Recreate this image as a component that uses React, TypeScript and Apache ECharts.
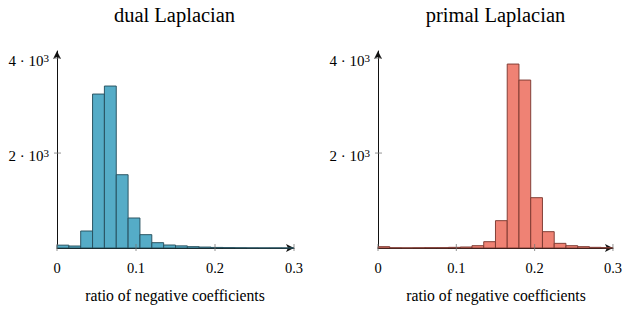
import React, { useEffect, useRef } from "react";
import * as echarts from "echarts";

const binStart = 0;
const binWidth = 0.015;
const dualCounts = [60, 42, 358, 3243, 3412, 1544, 632, 281, 112, 63, 45, 28, 20, 12, 8, 5, 3, 2, 2, 1];
const primalCounts = [28, 5, 3, 5, 7, 7, 14, 21, 49, 133, 576, 3875, 3538, 1060, 344, 98, 49, 28, 14, 8];
const xTicks = [0, 0.1, 0.2, 0.3];
const yTicks = [2000, 4000];
const titles = ["dual Laplacian", "primal Laplacian"];
const xName = "ratio of negative coefficients";

const FONT = "Liberation Serif";

function bins(counts: number[]) {
  return counts.map((c, i) => [binStart + i * binWidth, binStart + (i + 1) * binWidth, c]);
}

export default function App() {
  const ref = useRef<HTMLDivElement>(null);
  useEffect(() => {
    const chart = echarts.init(ref.current!, null, { renderer: "svg" });
    const grids = [
      { left: 57, top: 51, width: 237, height: 197 },
      { left: 378, top: 51, width: 237, height: 197 },
    ];
    const colors = [
      { fill: "#4ca8c4", stroke: "#27505e" },
      { fill: "#ee7b6d", stroke: "#7d3a32" },
    ];
    const data = [bins(dualCounts), bins(primalCounts)];
    const xAxes = grids.map((_, i) => ({
      type: "value",
      gridIndex: i,
      min: 0,
      max: 0.3,
      interval: 0.1,
      axisLine: { show: true, lineStyle: { color: "#111", width: 1 }, symbol: ["none", "arrow"], symbolSize: [6, 8] },
      axisTick: { show: false },
      splitLine: { show: false },
      axisLabel: {
        margin: 12,
        color: "#000",
        fontFamily: FONT,
        fontSize: 14.5,
        formatter: (v: number) => String(Math.round(v * 10) / 10),
      },
    }));
    const yAxes = grids.map((_, i) => ({
      type: "value",
      gridIndex: i,
      min: 0,
      max: 4150,
      interval: 2000,
      axisLine: { show: true, lineStyle: { color: "#111", width: 1 }, symbol: ["none", "arrow"], symbolSize: [6, 8] },
      axisTick: { show: false },
      splitLine: { show: false },
      axisLabel: {
        margin: 8,
        padding: [6, 0, 0, 0],
        color: "#000",
        fontFamily: FONT,
        fontSize: 15,
        formatter: (v: number) => (v > 0 && v % 2000 === 0 ? `{b|${v / 1000} · 10}{s|3}` : ""),
        rich: {
          b: { fontSize: 15, fontFamily: FONT, color: "#000", lineHeight: 17 },
          s: { fontSize: 11, fontFamily: FONT, color: "#000", verticalAlign: "top", lineHeight: 17, padding: [0, 0, 7, 0] },
        },
      },
    }));
    const series: any[] = [];
    data.forEach((d, i) => {
      series.push({
        type: "custom",
        xAxisIndex: i,
        yAxisIndex: i,
        clip: false,
        data: d,
        encode: { x: [0, 1], y: 2 },
        renderItem: (params: any, api: any) => {
          const p0 = api.coord([api.value(0), api.value(2)]);
          const p1 = api.coord([api.value(1), 0]);
          return {
            type: "rect",
            shape: { x: p0[0], y: p0[1], width: p1[0] - p0[0], height: p1[1] - p0[1] },
            style: { fill: colors[i].fill, stroke: colors[i].stroke, lineWidth: 1, opacity: 0.95 },
          };
        },
      });
      series.push({
        type: "custom",
        xAxisIndex: i,
        yAxisIndex: i,
        clip: false,
        data: xTicks.map((t) => [t, 0]),
        renderItem: (params: any, api: any) => {
          const p = api.coord([api.value(0), 0]);
          return {
            type: "line",
            shape: { x1: p[0], y1: p[1] - 4, x2: p[0], y2: p[1] + 3 },
            style: { stroke: "#777", lineWidth: 0.8 },
          };
        },
      });
      series.push({
        type: "custom",
        xAxisIndex: i,
        yAxisIndex: i,
        clip: false,
        data: yTicks.map((t) => [0, t]),
        renderItem: (params: any, api: any) => {
          const p = api.coord([0, api.value(1)]);
          return {
            type: "line",
            shape: { x1: p[0] - 3, y1: p[1], x2: p[0] + 4, y2: p[1] },
            style: { stroke: "#777", lineWidth: 0.8 },
          };
        },
      });
    });
    const titleCenters = [174.5, 495.5];
    const nameCenters = [175, 496];
    const graphic: any[] = [];
    titles.forEach((t, i) => {
      graphic.push({
        type: "text",
        x: titleCenters[i],
        y: 15,
        style: { text: t, fontFamily: FONT, fontSize: 20.5, fill: "#000", textAlign: "center", textVerticalAlign: "middle" },
      });
      graphic.push({
        type: "text",
        x: nameCenters[i],
        y: 295,
        style: { text: xName, fontFamily: FONT, fontSize: 15.7, fill: "#000", textAlign: "center", textVerticalAlign: "middle" },
      });
    });
    chart.setOption({
      animation: false,
      grid: grids,
      xAxis: xAxes,
      yAxis: yAxes,
      series,
      graphic,
    });
    return () => chart.dispose();
  }, []);
  return <div ref={ref} style={{ width: 625, height: 311, position: "absolute", left: 0, top: 0 }} />;
}
